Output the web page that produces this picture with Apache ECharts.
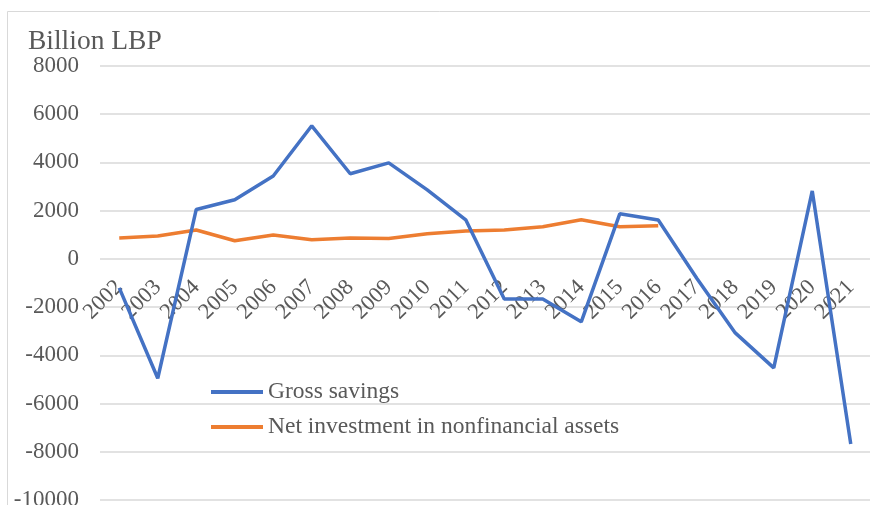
<!DOCTYPE html>
<html><head><meta charset="utf-8">
<script src="https://cdn.jsdelivr.net/npm/echarts@6/dist/echarts.min.js"></script>
<style>html,body{margin:0;padding:0;background:#fff}#c{width:870px;height:505px}</style>
</head><body><div id="c"></div>
<script>
const years = ['2002','2003','2004','2005','2006','2007','2008','2009','2010','2011','2012','2013','2014','2015','2016','2017','2018','2019','2020','2021'];
const grossSavings = [-1200,-4950,2050,2450,3440,5520,3530,3980,2860,1620,-1660,-1660,-2610,1870,1610,-800,-3070,-4520,2820,-7680];
const netInvestment = [870,950,1200,750,990,790,870,850,1040,1160,1200,1330,1620,1330,1370,null,null,null,null,null];
const yTicks = {min:-10000, max:8000, interval:2000};
const FONT = '"Liberation Serif","Times New Roman",serif';
const GRID_TOP = 66, GRID_BOTTOM = 5, H = 505;
const plotH = H - GRID_TOP - GRID_BOTTOM;
const zeroY = GRID_TOP + plotH * (yTicks.max / (yTicks.max - yTicks.min));
const xOffset = -((H - GRID_BOTTOM) - zeroY);
const chart = echarts.init(document.getElementById('c'), null, {renderer:'canvas'});
chart.setOption({
  backgroundColor:'#fff',
  animation:false,
  graphic:[{type:'rect',shape:{x:7.5,y:11.5,width:900,height:600},style:{fill:null,stroke:'#d9d9d9',lineWidth:1},silent:true},
    {type:'text',left:28,top:28,style:{text:'Billion LBP',font:'27.5px '+FONT,fill:'#595959'}}],
  grid:{left:100,right:0,top:GRID_TOP,bottom:GRID_BOTTOM,containLabel:false,outerBoundsMode:'none'},
  legend:{orient:'vertical',left:206,top:375,itemGap:11,itemWidth:52,itemHeight:4,icon:'rect',
    textStyle:{fontFamily:FONT,fontSize:23.5,color:'#595959'},
    data:['Gross savings','Net investment in nonfinancial assets']},
  xAxis:{type:'category',data:years,boundaryGap:true,offset:xOffset,
    axisLine:{show:false,onZero:false},axisTick:{show:false},
    axisLabel:{interval:0,rotate:45,margin:25,fontFamily:FONT,fontSize:22.5,color:'#595959'}},
  yAxis:{type:'value',min:yTicks.min,max:yTicks.max,interval:yTicks.interval,
    axisLine:{show:false},axisTick:{show:false},
    splitLine:{lineStyle:{color:'#d9d9d9',width:1.5}},
    axisLabel:{margin:21,fontFamily:FONT,fontSize:23,color:'#595959',formatter:v=>String(v)}},
  series:[
    {name:'Gross savings',type:'line',data:grossSavings,symbol:'none',lineStyle:{color:'#4472C4',width:3.5},itemStyle:{color:'#4472C4'},z:3},
    {name:'Net investment in nonfinancial assets',type:'line',data:netInvestment,symbol:'none',lineStyle:{color:'#ED7D31',width:3.5},itemStyle:{color:'#ED7D31'},z:2}
  ]
});
</script></body></html>
